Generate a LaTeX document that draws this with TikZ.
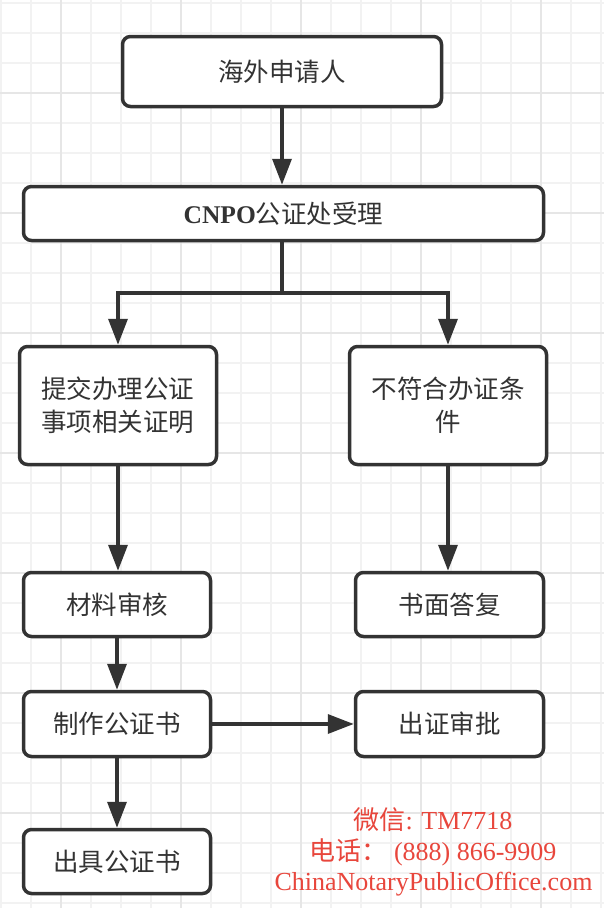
\documentclass[tikz,border=0pt]{standalone}
\usepackage{fontspec}
\setmainfont{Liberation Serif}
\newfontfamily\cjk{Noto Sans CJK SC}
\usetikzlibrary{arrows.meta}
\definecolor{ink}{HTML}{333333}
\definecolor{wm}{HTML}{E8463C}
\definecolor{gridminor}{HTML}{F2F2F2}
\definecolor{gridmajor}{HTML}{E6E6E6}
\begin{document}
\begin{tikzpicture}[x=1pt,y=-1pt,
  box/.style={draw=ink, line width=3.5pt, rounded corners=8pt, fill=white, inner sep=0pt,
    align=center, text=ink, font=\cjk\fontsize{25.5}{33}\selectfont},
  flow/.style={draw=ink, line width=3.5pt, -{Triangle[length=26pt,width=19pt]}},
  plain/.style={draw=ink, line width=3.5pt},
  minorgrid/.style={draw=gridminor, line width=1.5pt},
  majorgrid/.style={draw=gridmajor, line width=2pt},
  wmtext/.style={text=wm, font=\fontsize{26}{30}\selectfont, inner sep=0pt}]
\useasboundingbox (0,0) rectangle (604,908);
\fill[white] (0,0) rectangle (604,908);
% grid
\foreach \i in {0,...,20} {
  \draw[minorgrid] ({1+30*\i},0) -- ({1+30*\i},908);
}
\foreach \j in {0,...,30} {
  \draw[minorgrid] (0,{3+30*\j}) -- (604,{3+30*\j});
}
\foreach \i in {0,...,4} {
  \draw[majorgrid] ({61+120*\i},0) -- ({61+120*\i},908);
}
\foreach \j in {0,...,6} {
  \draw[majorgrid] (0,{93+120*\j}) -- (604,{93+120*\j});
}
% boxes
\node[box, minimum width=319pt, minimum height=70pt] (b1) at (282,71.5) {海外申请人};
\node[box, minimum width=520pt, minimum height=54pt] (b2) at (283.5,213.5)
  {{\fontspec{Liberation Serif}\bfseries CNPO}公证处受理};
\node[box, minimum width=197pt, minimum height=118pt] (b3) at (118,405.5) {提交办理公证\\事项相关证明};
\node[box, minimum width=197pt, minimum height=118pt] (b4) at (448,405.5) {不符合办证条\\件};
\node[box, minimum width=187pt, minimum height=64pt] (b5) at (117,604.5) {材料审核};
\node[box, minimum width=188pt, minimum height=64pt] (b6) at (449.5,604.5) {书面答复};
\node[box, minimum width=187pt, minimum height=65pt] (b7) at (117,724) {制作公证书};
\node[box, minimum width=188pt, minimum height=65pt] (b8) at (449.5,724) {出证审批};
\node[box, minimum width=187pt, minimum height=64pt] (b9) at (117,861.5) {出具公证书};
% connectors
\coordinate (top) at (282,242);
\coordinate (j) at (282,293);
\draw[flow] (b1.south) -- (b1.south |- b2.north);
\draw[plain] (top) -- (j);
\draw[flow] (j) -| (b3.north);
\draw[flow] (j) -| (b4.north);
\draw[flow] (b3.south) -- (b3.south |- b5.north);
\draw[flow] (b4.south) -- (b4.south |- b6.north);
\draw[flow] (b5.south) -- (b5.south |- b7.north);
\draw[flow] (b7.east) -- (b7.east -| b8.west);
\draw[flow] (b7.south) -- (b7.south |- b9.north);
% watermark
\node[wmtext] (wm1) at (433,820) {{\cjk 微信}: TM7718};
\node[wmtext] (wm2) at (433,852) {{\cjk 电话：}\ (888) 866-9909};
\node[wmtext] (wm3) at (433.5,884) {ChinaNotaryPublicOffice.com};
\end{tikzpicture}
\end{document}
